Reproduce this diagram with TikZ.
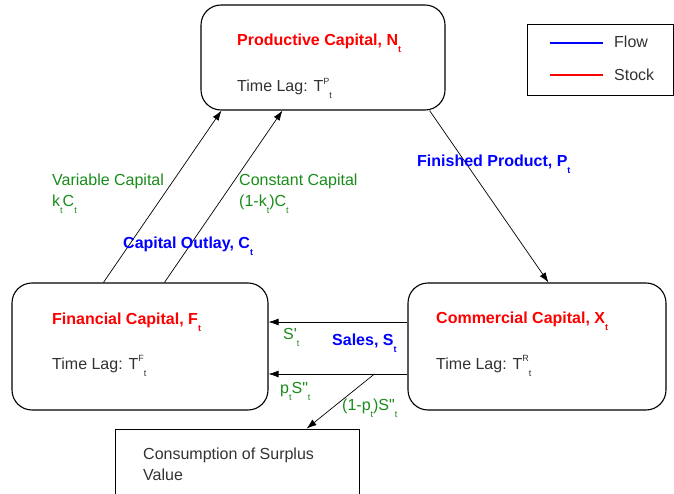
\documentclass[tikz,border=0pt]{standalone}
\usepackage{fontspec}
\setmainfont{Liberation Sans}[Ligatures=TeXOff]
\usetikzlibrary{calc, arrows.meta, positioning}
\definecolor{StockRed}{RGB}{255, 0, 0}
\definecolor{FlowBlue}{RGB}{0, 0, 255}
\definecolor{ShareGreen}{RGB}{25, 140, 25}
\definecolor{LagGrey}{RGB}{50, 50, 50}
% tiefgestellte und hochgestellte Indizes
\newcommand{\lowidx}[1]{\raisebox{-7pt}{\fontsize{9}{9}\selectfont #1}}
\newcommand{\highidx}[1]{\raisebox{7.5pt}{\fontsize{9}{9}\selectfont #1}}

\begin{document}
\begin{tikzpicture}[x=1pt, y=-1pt,
    every node/.style={font=\fontsize{16}{21}\selectfont, inner sep=0pt},
    capbox/.style={draw, rounded corners=20pt, line width=1.1pt},
    stocklbl/.style={anchor=base west, text=StockRed, font=\fontsize{16}{21}\selectfont\bfseries},
    flowlbl/.style={anchor=base west, text=FlowBlue, font=\fontsize{16}{21}\selectfont\bfseries},
    sharelbl/.style={anchor=base west, text=ShareGreen, align=left},
    laglbl/.style={anchor=base west, text=LagGrey},
    flow/.style={draw, line width=0.7pt, -{Latex[length=10pt,width=7pt]}}]
    \useasboundingbox (0,0) rectangle (674,494);

    % Kapitalboxen
    \node[capbox, minimum width=244pt, minimum height=105pt] (prod) at (323,57.5) {};
    \node[capbox, minimum width=256pt, minimum height=127pt] (fin) at (140,346.5) {};
    \node[capbox, minimum width=258pt, minimum height=127pt] (comm) at (537,346.5) {};
    \node[draw, line width=0.8pt, minimum width=244pt, minimum height=80pt] (cons) at (237,469) {};

    \node[stocklbl] (prodname) at (237,46) {Productive Capital, N\lowidx{t}};
    \node[laglbl] (prodlag) at (237,92) {Time Lag: T\highidx{P}\lowidx{t}};
    \node[stocklbl] (finname) at (52,324) {Financial Capital, F\lowidx{t}};
    \node[laglbl] (finlag) at (52,369) {Time Lag: T\highidx{F}\lowidx{t}};
    \node[stocklbl] (commname) at (436,323) {Commercial Capital, X\lowidx{t}};
    \node[laglbl] (commlag) at (436,369) {Time Lag: T\highidx{R}\lowidx{t}};
    \node[laglbl, align=left] (consname) at (143,480) {Consumption of Surplus\\Value};

    % Legende
    \node[draw, line width=0.8pt, minimum width=146pt, minimum height=71pt] (legend) at (600,59.5) {};
    \draw[FlowBlue, line width=2pt] (550,43) -- (603,43);
    \node[laglbl] (flowkey) at (614,48) {Flow};
    \draw[StockRed, line width=2pt] (550,75) -- (603,75);
    \node[laglbl] (stockkey) at (614,81) {Stock};

    % Stroeme
    \draw[flow] ($(fin.north west)+(92,0)$) -- ($(prod.south west)+(21,0)$);
    \draw[flow] ($(fin.north west)+(153,0)$) -- ($(prod.south west)+(82,0)$);
    \draw[flow] ($(prod.south east)+(-16,0)$) -- ($(comm.north west)+(141,0)$);
    \draw[flow] ($(comm.west)+(0,-24.5)$) -- ($(fin.east)+(0,-24.5)$);
    \draw[flow] ($(comm.west)+(0,27.5)$) -- ($(fin.east)+(0,27.5)$);
    \coordinate (split) at ($(comm.west)+(-33,27.5)$);
    \draw[flow] (split) -- ($(cons.north west)+(192,0)$);

    \node[sharelbl] (varcap) at (52,207) {Variable Capital\\k\lowidx{t}C\lowidx{t}};
    \node[sharelbl] (constcap) at (239,207) {Constant Capital\\(1-k\lowidx{t})C\lowidx{t}};
    \node[flowlbl] (outlay) at (123,248) {Capital Outlay, C\lowidx{t}};
    \node[flowlbl] (product) at (417,167) {Finished Product, P\lowidx{t}};
    \node[sharelbl] (sdash) at (283,339) {S'\lowidx{t}};
    \node[flowlbl] (sales) at (332,345) {Sales, S\lowidx{t}};
    \node[sharelbl] (reinvest) at (280,393) {p\lowidx{t}S"\lowidx{t}};
    \node[sharelbl] (surplus) at (342,410) {(1-p\lowidx{t})S"\lowidx{t}};
\end{tikzpicture}
\end{document}
